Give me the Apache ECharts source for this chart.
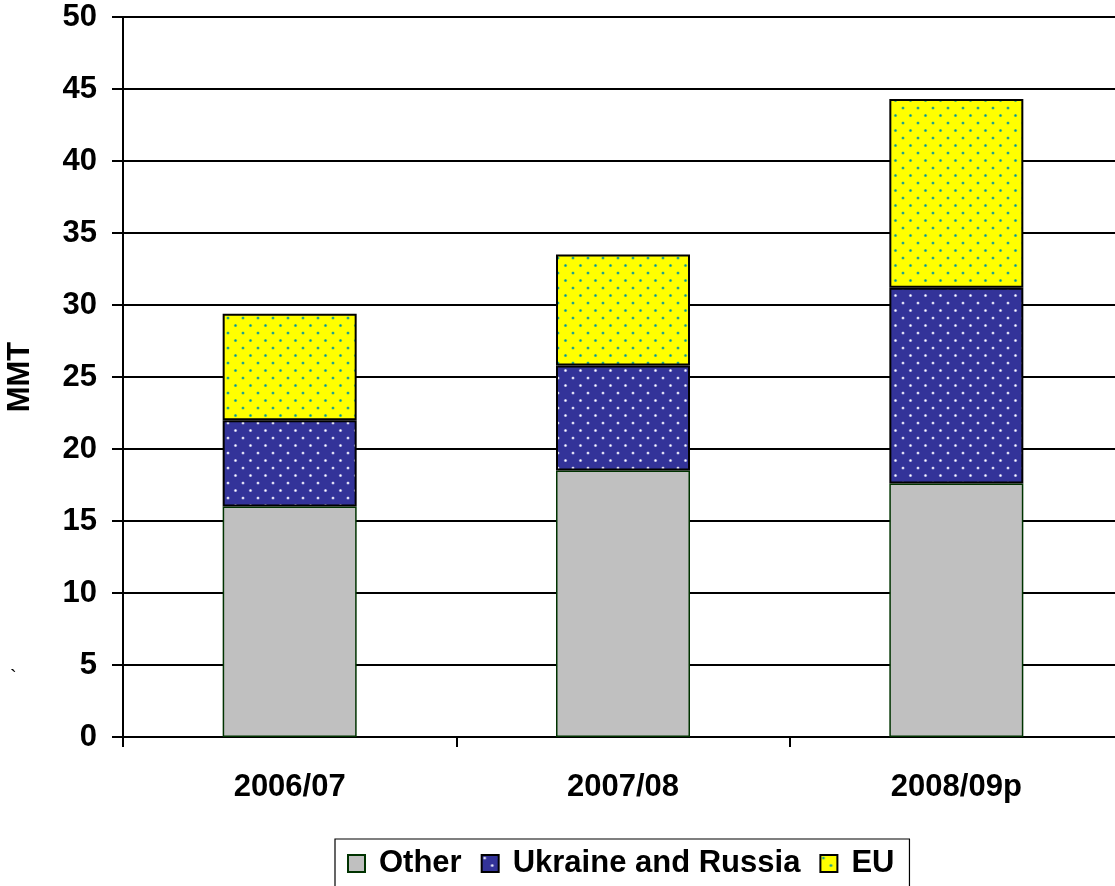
<!DOCTYPE html>
<html>
<head>
<meta charset="utf-8">
<style>
  html, body { margin: 0; padding: 0; background: #fff; }
  #chart { width: 1115px; height: 886px; }
</style>
<script src="https://cdn.jsdelivr.net/npm/echarts@6/dist/echarts.min.js"></script>
</head>
<body>
<div id="chart"></div>
<script>
// Marketing years and supply sources (million metric tons)
const seasons = ['2006/07', '2007/08', '2008/09p'];
const other = [16.0, 18.5, 17.6];
const ukraineRussia = [6.0, 7.3, 13.6];
const eu = [7.4, 7.7, 13.1];
const yTicks = { min: 0, max: 50, step: 5 };

const FONT = '"Liberation Sans", Arial, sans-serif';

// Small repeating tile with staggered dots, used as a dotted fill
function dotPattern(bg, dot, halo) {
  const c = document.createElement('canvas');
  c.width = 15; c.height = 15;
  const g = c.getContext('2d');
  g.fillStyle = bg;
  g.fillRect(0, 0, 15, 15);
  [[3, 3], [10.5, 10.5]].forEach(([x, y]) => {
    g.fillStyle = halo;
    g.beginPath(); g.arc(x, y, 1.6, 0, Math.PI * 2); g.fill();
    g.fillStyle = dot;
    g.beginPath(); g.arc(x, y, 0.9, 0, Math.PI * 2); g.fill();
  });
  return { image: c, repeat: 'repeat' };
}

const chart = echarts.init(document.getElementById('chart'), null, { renderer: 'canvas' });

chart.setOption({
  animation: false,
  backgroundColor: '#ffffff',
  textStyle: { fontFamily: FONT, color: '#000' },
  // plot area runs a little past the right edge of the page
  grid: { left: 123, top: 17, width: 1000, height: 720, containLabel: false, outerBoundsMode: 'none' },
  legend: {
    left: 335,
    top: 839,
    orient: 'horizontal',
    padding: [9, 15, 9, 12],
    borderColor: '#000',
    borderWidth: 1.2,
    itemWidth: 17,
    itemHeight: 17,
    itemGap: 19,
    icon: 'rect',
    textStyle: { fontFamily: FONT, fontSize: 31, fontWeight: 'bold', color: '#000', padding: [0, 0, 0, 9] },
    data: ['Other', 'Ukraine and Russia', 'EU']
  },
  xAxis: {
    type: 'category',
    data: seasons,
    boundaryGap: true,
    axisLine: { lineStyle: { color: '#000', width: 2 } },
    axisTick: { show: true, alignWithLabel: false, length: 10, lineStyle: { color: '#000', width: 2 } },
    axisLabel: { fontFamily: FONT, fontSize: 31, fontWeight: 'bold', color: '#000', margin: 35 }
  },
  yAxis: {
    type: 'value',
    min: yTicks.min,
    max: yTicks.max,
    interval: yTicks.step,
    name: 'MMT',
    nameLocation: 'middle',
    nameRotate: 90,
    nameGap: 87,
    nameTextStyle: { fontFamily: FONT, fontSize: 31, fontWeight: 'bold', color: '#000' },
    axisLine: { show: true, lineStyle: { color: '#000', width: 2 } },
    axisTick: { show: true, inside: false, length: 11, lineStyle: { color: '#000', width: 2 } },
    axisLabel: { fontFamily: FONT, fontSize: 31, fontWeight: 'bold', color: '#000', margin: 26 },
    splitLine: { show: true, lineStyle: { color: '#000', width: 2 } }
  },
  graphic: [{
    type: 'text',
    left: 10,
    top: 668,
    style: { text: '`', font: '20px ' + FONT, fill: '#000' }
  }],
  series: [
    {
      name: 'Other',
      type: 'bar',
      stack: 'total',
      barWidth: 134,
      data: other,
      itemStyle: { color: '#c0c0c0', borderColor: '#003300', borderWidth: 1.5 }
    },
    {
      name: 'Ukraine and Russia',
      type: 'bar',
      stack: 'total',
      barWidth: 134,
      data: ukraineRussia,
      itemStyle: { color: dotPattern('#333399', '#ffffff', '#9a9ad8'), borderColor: '#000', borderWidth: 2 }
    },
    {
      name: 'EU',
      type: 'bar',
      stack: 'total',
      barWidth: 134,
      data: eu,
      itemStyle: { color: dotPattern('#ffff00', '#0090a0', '#70c860'), borderColor: '#000', borderWidth: 2 }
    }
  ]
});
</script>
</body>
</html>
